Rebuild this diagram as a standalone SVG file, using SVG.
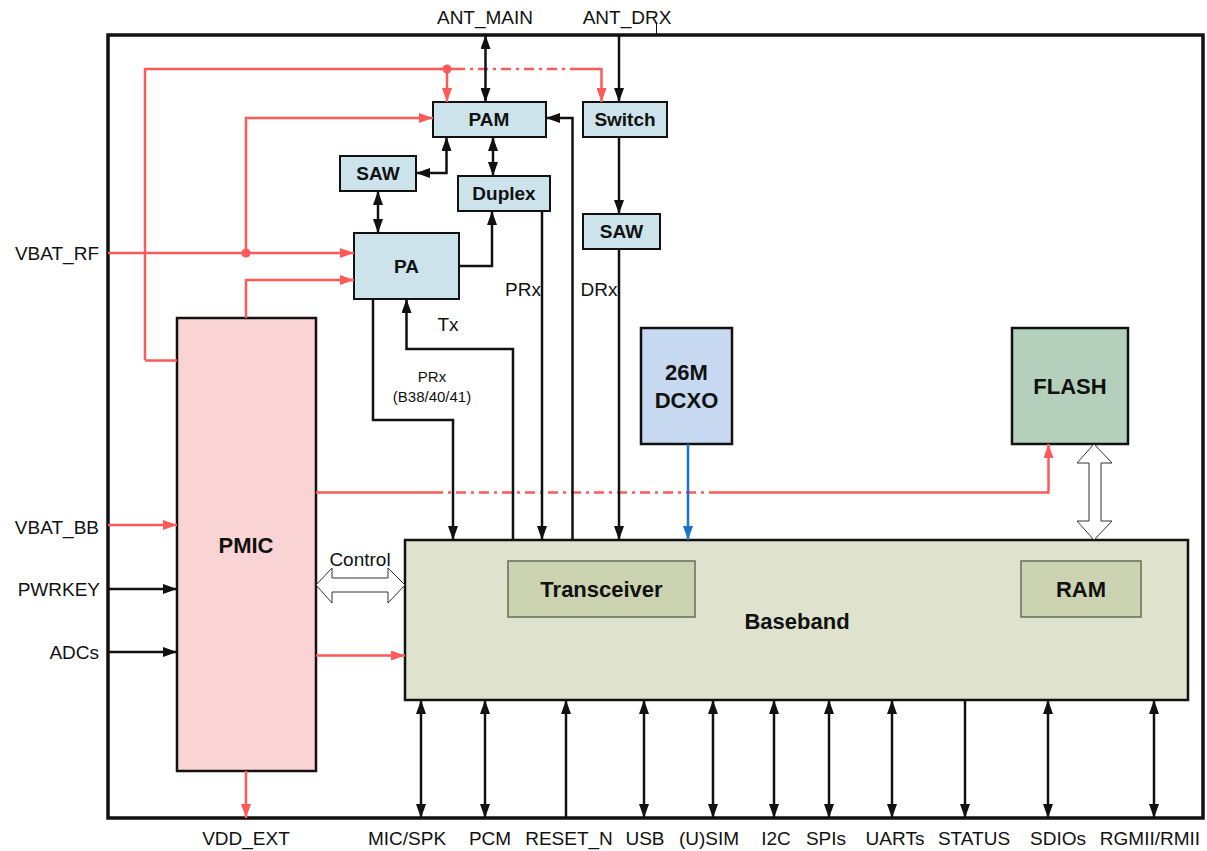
<svg xmlns="http://www.w3.org/2000/svg" width="1207" height="851" viewBox="0 0 1207 851">
<style>
.lbl{font-family:"Liberation Sans",Arial,sans-serif;font-size:19px;fill:#111}
.sm{font-family:"Liberation Sans",Arial,sans-serif;font-size:15px;fill:#111}
.b19{font-family:"Liberation Sans",Arial,sans-serif;font-size:19px;font-weight:bold;fill:#111;text-anchor:middle}
.b22{font-family:"Liberation Sans",Arial,sans-serif;font-size:22px;font-weight:bold;fill:#111;text-anchor:middle}
.mid{text-anchor:middle}
.end{text-anchor:end}
.rf{fill:#cde3ec;stroke:#111;stroke-width:2}
.k{fill:none;stroke:#111;stroke-width:2.5}
.ka{fill:none;stroke:#111;stroke-width:2.5;marker-end:url(#ah)}
.kd{fill:none;stroke:#111;stroke-width:2.5;marker-start:url(#ah);marker-end:url(#ah)}
.r{fill:none;stroke:#ff5a5a;stroke-width:2.5}
.ra{fill:none;stroke:#ff5a5a;stroke-width:2.5;marker-end:url(#ahr)}
.hol{fill:#fff;stroke:#333;stroke-width:1}
</style>
<defs>
<marker id="ah" viewBox="0 0 14 10" refX="14" refY="5" markerWidth="14" markerHeight="10" markerUnits="userSpaceOnUse" orient="auto-start-reverse"><path d="M0,0 L14,5 L0,10 z" fill="#111"/></marker>
<marker id="ahr" viewBox="0 0 14 10" refX="14" refY="5" markerWidth="14" markerHeight="10" markerUnits="userSpaceOnUse" orient="auto"><path d="M0,0 L14,5 L0,10 z" fill="#ff5a5a"/></marker>
<marker id="ahb" viewBox="0 0 14 10" refX="14" refY="5" markerWidth="14" markerHeight="10" markerUnits="userSpaceOnUse" orient="auto"><path d="M0,0 L14,5 L0,10 z" fill="#1a73c8"/></marker>
</defs>
<rect width="1207" height="851" fill="#fff"/>

<!-- outer frame -->
<rect id="frame" x="108" y="35" width="1095" height="783" fill="none" stroke="#111" stroke-width="3.5"/>

<!-- nodes -->
<g id="pmic"><rect x="177" y="318" width="139" height="453" fill="#fad4d4" stroke="#111" stroke-width="2.5"/><text class="b22" x="246" y="553">PMIC</text></g>
<g id="baseband"><rect x="405" y="540" width="783" height="160" fill="#dfe3ce" stroke="#111" stroke-width="2.5"/><text class="b22" x="797" y="629">Baseband</text></g>
<g id="transceiver"><rect x="508" y="561" width="187" height="56" fill="#cbd3b1" stroke="#6b6b5a" stroke-width="1.5"/><text class="b22" x="601.5" y="597">Transceiver</text></g>
<g id="ram"><rect x="1021" y="561" width="120" height="56" fill="#cbd3b1" stroke="#6b6b5a" stroke-width="1.5"/><text class="b22" x="1081" y="597">RAM</text></g>
<g id="pam"><rect class="rf" x="433" y="102" width="113" height="35"/><text class="b19" x="489" y="126">PAM</text></g>
<g id="switch"><rect class="rf" x="583" y="102" width="84" height="35"/><text class="b19" x="625" y="126">Switch</text></g>
<g id="saw1"><rect class="rf" x="340" y="156" width="76" height="35"/><text class="b19" x="378" y="180">SAW</text></g>
<g id="duplex"><rect class="rf" x="458" y="176" width="92" height="35"/><text class="b19" x="504" y="200">Duplex</text></g>
<g id="saw2"><rect class="rf" x="583" y="214" width="77" height="35"/><text class="b19" x="621.5" y="238">SAW</text></g>
<g id="pa"><rect class="rf" x="354" y="233" width="105" height="66"/><text class="b19" x="406.5" y="273">PA</text></g>
<g id="dcxo"><rect x="641" y="328" width="91" height="116" fill="#c6d9f1" stroke="#111" stroke-width="2.5"/><text class="b22" x="686.5" y="380">26M</text><text class="b22" x="686.5" y="408">DCXO</text></g>
<g id="flash"><rect x="1012" y="328" width="116" height="116" fill="#b4d0bd" stroke="#111" stroke-width="2.5"/><text class="b22" x="1070" y="394">FLASH</text></g>

<!-- connectors -->
<g id="connectors">
  <!-- red power lines -->
  <path class="r" d="M145,360 L145,69 L455,69"/>
  <path class="r" d="M455,69 L580,69" stroke-dasharray="10,5,3,5"/>
  <path class="ra" d="M580,69 L601.5,69 L601.5,102"/>
  <circle cx="447" cy="69" r="4.5" fill="#ff5a5a"/>
  <path class="ra" d="M447,69 L447,102"/>
  <path class="r" d="M145,360.5 L177,360.5"/>
  <path class="ra" d="M108,253 L354,253"/>
  <circle cx="246" cy="253" r="4.5" fill="#ff5a5a"/>
  <path class="ra" d="M246,253 L246,118 L433,118"/>
  <path class="ra" d="M246,318 L246,280 L354,280"/>
  <path class="ra" d="M108,525 L177,525"/>
  <path class="ra" d="M316,655.5 L405,655.5"/>
  <path class="ra" d="M246,771 L246,818"/>
  <path class="r" d="M316,492.5 L433,492.5"/>
  <path class="r" d="M433,492.5 L710,492.5" stroke-dasharray="10,5,3,5"/>
  <path class="ra" d="M710,492.5 L1048.5,492.5 L1048.5,444"/>

  <!-- black inputs -->
  <path class="ka" d="M108,589 L177,589"/>
  <path class="ka" d="M108,652 L177,652"/>

  <!-- RF black connectors -->
  <path class="kd" d="M485.5,35 L485.5,102"/>
  <path class="ka" d="M619,35 L619,102"/>
  <path d="M656.5,22 L656.5,35" stroke="#111" stroke-width="1"/>
  <path class="kd" d="M446.5,137 L446.5,173 L416,173"/>
  <path class="kd" d="M493,137 L493,176"/>
  <path class="kd" d="M378,191 L378,233"/>
  <path class="ka" d="M459,266 L492,266 L492,211"/>
  <path class="ka" d="M619,137 L619,214"/>
  <path class="ka" d="M619,249 L619,540"/>
  <path class="ka" d="M542,211 L542,540"/>
  <path class="ka" d="M572.5,540 L572.5,118 L546,118"/>
  <path class="ka" d="M513,540 L513,349 L406.5,349 L406.5,299"/>
  <path class="ka" d="M373,299 L373,420 L453,420 L453,540"/>
  <path fill="none" stroke="#1a73c8" stroke-width="2.5" marker-end="url(#ahb)" d="M688,444 L688,540"/>

  <!-- hollow arrows -->
  <polygon class="hol" points="316,585 332,568 332,578 388,578 388,568 405,585 388,603 388,592 332,592 332,603"/>
  <polygon class="hol" points="1094,444 1112,463 1101,463 1101,521 1112,521 1094,540 1077,521 1089,521 1089,463 1077,463"/>

  <!-- bottom interfaces -->
  <path class="kd" d="M421,700 L421,818"/>
  <path class="kd" d="M485,700 L485,818"/>
  <path class="ka" d="M566,818 L566,700"/>
  <path class="kd" d="M644,700 L644,818"/>
  <path class="kd" d="M713,700 L713,818"/>
  <path class="kd" d="M774,700 L774,818"/>
  <path class="kd" d="M829,700 L829,818"/>
  <path class="kd" d="M892,700 L892,818"/>
  <path class="ka" d="M965,700 L965,818"/>
  <path class="kd" d="M1048,700 L1048,818"/>
  <path class="kd" d="M1154,700 L1154,818"/>
</g>

<!-- labels -->
<g id="labels">
  <text class="lbl mid" x="485" y="24">ANT_MAIN</text>
  <text class="lbl mid" x="627" y="24">ANT_DRX</text>
  <text class="lbl end" x="99" y="260">VBAT_RF</text>
  <text class="lbl end" x="99" y="534">VBAT_BB</text>
  <text class="lbl end" x="100" y="596">PWRKEY</text>
  <text class="lbl end" x="99" y="659">ADCs</text>
  <text class="lbl mid" x="360" y="566">Control</text>
  <text class="lbl mid" x="448" y="331">Tx</text>
  <text class="lbl mid" x="523" y="296">PRx</text>
  <text class="lbl mid" x="599" y="296">DRx</text>
  <text class="sm mid" x="432" y="382">PRx</text>
  <text class="sm mid" x="432" y="402">(B38/40/41)</text>
  <text class="lbl mid" x="246" y="845">VDD_EXT</text>
  <text class="lbl mid" x="407" y="845">MIC/SPK</text>
  <text class="lbl mid" x="490" y="845">PCM</text>
  <text class="lbl mid" x="569" y="845">RESET_N</text>
  <text class="lbl mid" x="645" y="845">USB</text>
  <text class="lbl mid" x="709" y="845">(U)SIM</text>
  <text class="lbl mid" x="776" y="845">I2C</text>
  <text class="lbl mid" x="826" y="845">SPIs</text>
  <text class="lbl mid" x="895" y="845">UARTs</text>
  <text class="lbl mid" x="974" y="845">STATUS</text>
  <text class="lbl mid" x="1058" y="845">SDIOs</text>
  <text class="lbl mid" x="1150" y="845">RGMII/RMII</text>
</g>
</svg>
